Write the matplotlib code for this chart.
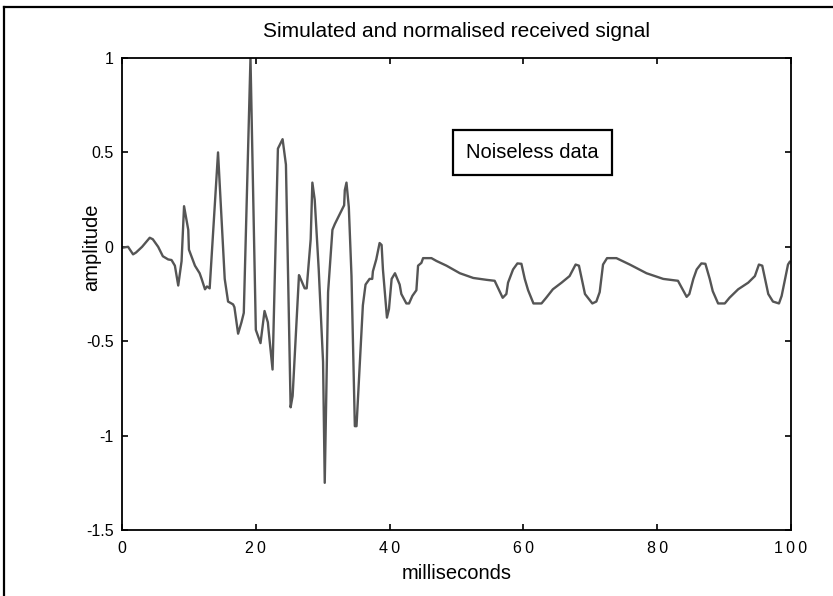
import matplotlib

matplotlib.use("Agg")
import matplotlib.pyplot as plt
from matplotlib.lines import Line2D

# received signal (time in ms, normalised amplitude)
t_ms = [
    0.0, 0.9, 1.65, 2.1, 3.0, 4.14, 4.6, 5.4, 6.1, 6.9, 7.4, 7.9, 8.4, 8.9,
    9.27, 9.9, 10.0, 10.9, 11.6, 11.9, 12.4, 12.7, 13.1, 14.35, 15.35, 15.85,
    16.6, 16.8, 17.35, 17.85, 18.2, 19.2, 20.0, 20.7, 21.3, 21.8, 21.9, 22.5,
    23.3, 24.0, 24.5, 25.2, 25.5, 26.45, 26.7, 27.3, 27.6, 28.2, 28.45, 28.8,
    29.4, 30.05, 30.3, 30.8, 31.45, 31.8, 32.5, 33.2, 33.3, 33.55, 33.9, 34.3,
    34.8, 35.05, 36.0, 36.4, 37.0, 37.4, 37.5, 38.0, 38.5, 38.8, 39.0, 39.6,
    39.9, 40.3, 40.8, 41.5, 41.75, 42.5, 42.9, 43.4, 44.0, 44.25, 44.75, 45.0,
    46.25, 47.0, 48.5, 50.5, 52.5, 54.5, 55.7, 56.9, 57.45, 57.7, 58.45, 59.1,
    59.7, 60.2, 60.7, 61.5, 62.7, 63.4, 64.4, 65.7, 66.9, 67.8, 68.3, 69.2,
    70.3, 70.9, 71.4, 71.9, 72.5, 73.9, 75.9, 78.4, 80.9, 83.1, 84.4, 84.8,
    85.4, 85.9, 86.6, 87.2, 87.85, 88.3, 89.1, 90.1, 90.8, 92.1, 93.6, 94.6,
    95.2, 95.7, 96.6, 97.3, 98.2, 98.6, 99.05, 99.55, 99.8,
]
amplitude = [
    -0.005, 0.0, -0.04, -0.03, 0.0, 0.048, 0.04, 0.0, -0.05, -0.067, -0.07,
    -0.10, -0.205, -0.076, 0.215, 0.09, -0.015, -0.10, -0.14, -0.17, -0.225,
    -0.21, -0.22, 0.50, -0.17, -0.29, -0.305, -0.32, -0.46, -0.40, -0.35, 1.0,
    -0.44, -0.51, -0.34, -0.40, -0.44, -0.65, 0.52, 0.57, 0.435, -0.85, -0.79,
    -0.15, -0.17, -0.22, -0.22, 0.04, 0.34, 0.25, -0.12, -0.61, -1.25, -0.24,
    0.09, 0.12, 0.17, 0.22, 0.30, 0.34, 0.21, -0.155, -0.95, -0.95, -0.31,
    -0.20, -0.17, -0.17, -0.13, -0.067, 0.02, 0.01, -0.12, -0.375, -0.33,
    -0.17, -0.14, -0.20, -0.25, -0.30, -0.30, -0.26, -0.23, -0.10, -0.085,
    -0.06, -0.06, -0.075, -0.10, -0.14, -0.165, -0.175, -0.18, -0.27, -0.25,
    -0.19, -0.12, -0.088, -0.09, -0.17, -0.23, -0.30, -0.30, -0.27, -0.225,
    -0.19, -0.155, -0.094, -0.10, -0.25, -0.30, -0.29, -0.24, -0.094, -0.06,
    -0.06, -0.094, -0.14, -0.17, -0.18, -0.265, -0.25, -0.17, -0.12, -0.088,
    -0.09, -0.17, -0.235, -0.30, -0.30, -0.27, -0.225, -0.19, -0.155, -0.094,
    -0.10, -0.25, -0.29, -0.30, -0.26, -0.18, -0.094, -0.08,
]

x_ticks = [0, 20, 40, 60, 80, 100]
x_tick_labels = ["0", "20", "40", "60", "80", "100"]
y_ticks = [1, 0.5, 0, -0.5, -1, -1.5]
y_tick_labels = ["1", "0.5", "0", "-0.5", "-1", "-1.5"]


def spaced(s):
    # old MATLAB exports draw the x tick digits with wide letter spacing
    return "\u2009".join(s)


plt.rcParams["font.family"] = ["Liberation Sans", "DejaVu Sans"]

fig = plt.figure(figsize=(8.33, 5.96), dpi=100)
ax = fig.add_axes([0.1465, 0.1107, 0.8031, 0.7920])

ax.plot(t_ms, amplitude, color="#555555", lw=1.7)

ax.set_xlim(0, 100)
ax.set_ylim(-1.5, 1)
ax.set_xticks(x_ticks)
ax.set_xticklabels([spaced(s) for s in x_tick_labels])
ax.set_yticks(y_ticks)
ax.set_yticklabels(y_tick_labels)
ax.tick_params(direction="in", length=4, width=1.2, top=True, right=True,
               labelsize=11.5, colors="black", pad=6)
ax.tick_params(axis="x", pad=8)
for s in ax.spines.values():
    s.set_linewidth(1.3)

ax.set_title("Simulated and normalised received signal", fontsize=15, pad=15)
ax.set_xlabel("milliseconds", fontsize=14.5, labelpad=6)
ax.set_ylabel("amplitude", fontsize=14.5)
# the label sits next to the short "0" tick label, as in the source figure
ax.yaxis.set_label_coords(-0.031, 0.60)

ax.text(0.613, 0.800, "Noiseless data", transform=ax.transAxes, fontsize=14.5,
        ha="center", va="center",
        bbox=dict(boxstyle="square,pad=0.65", fc="white", ec="black", lw=1.6))

# partial outer frame (top and left edges only)
fig.add_artist(Line2D([0.005, 1.0], [0.989, 0.989], transform=fig.transFigure,
                      color="black", lw=1.6))
fig.add_artist(Line2D([0.005, 0.005], [0.0, 0.989], transform=fig.transFigure,
                      color="black", lw=1.6))

fig.savefig("out.png", dpi=100)
